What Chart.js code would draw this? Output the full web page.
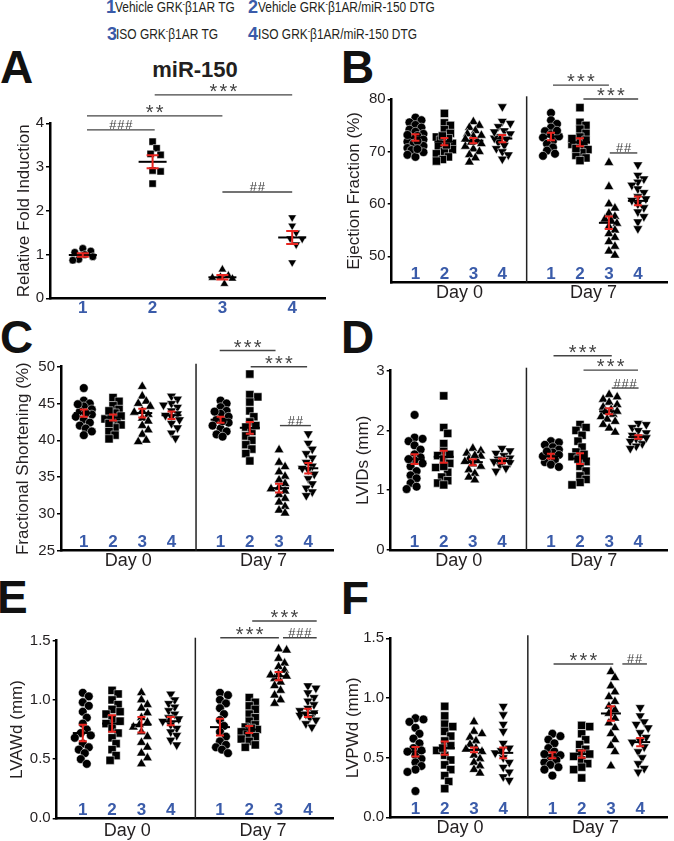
<!DOCTYPE html>
<html>
<head>
<meta charset="utf-8">
<script src="https://cdn.jsdelivr.net/npm/chart.js@4.4.1/dist/chart.umd.min.js"></script>
<style>
  body { margin: 0; background: #fff; width: 674px; height: 841px; position: relative; overflow: hidden;
         font-family: "Liberation Sans", Arial, Helvetica, sans-serif; color: #231f20; }
  canvas { position: absolute; }
  .letter { position: absolute; font-weight: bold; font-size: 46px; line-height: 46px; color: #111; }
  .num { position: absolute; font-weight: bold; font-size: 18px; line-height: 20px; color: #3a5ba9; }
  .leg { position: absolute; font-size: 15px; line-height: 20px; white-space: nowrap;
         transform-origin: left center; }
  .leg sup { font-size: 9px; line-height: 0; vertical-align: 5px; }
  .title { position: absolute; font-weight: bold; font-size: 22px; line-height: 24px; width: 120px; text-align: center; }
</style>
</head>
<body>
<div class="num" style="left:106px;top:-3px">1</div>
<div class="leg" data-w="120" style="left:115px;top:-3px">Vehicle GRK<sup>-</sup>β1AR TG</div>
<div class="num" style="left:248px;top:-3px">2</div>
<div class="leg" data-w="177" style="left:258px;top:-3px">Vehicle GRK<sup>-</sup>β1AR/miR-150 DTG</div>
<div class="num" style="left:107px;top:24px">3</div>
<div class="leg" data-w="102" style="left:116px;top:24px">ISO GRK<sup>-</sup>β1AR TG</div>
<div class="num" style="left:248px;top:24px">4</div>
<div class="leg" data-w="159" style="left:258px;top:24px">ISO GRK<sup>-</sup>β1AR/miR-150 DTG</div>

<div class="letter" style="left:0px;top:44px">A</div>
<div class="letter" style="left:341px;top:44px">B</div>
<div class="letter" style="left:0px;top:314px">C</div>
<div class="letter" style="left:341px;top:314px">D</div>
<div class="letter" style="left:-3px;top:574px">E</div>
<div class="letter" style="left:341px;top:575px">F</div>
<div class="title" style="left:135px;top:58px">miR-150</div>

<canvas id="chartA" width="340" height="260" style="left:0;top:60px"></canvas>
<canvas id="chartB" width="334" height="260" style="left:340px;top:60px"></canvas>
<canvas id="chartC" width="340" height="260" style="left:0;top:320px"></canvas>
<canvas id="chartD" width="334" height="260" style="left:340px;top:320px"></canvas>
<canvas id="chartE" width="340" height="261" style="left:0;top:580px"></canvas>
<canvas id="chartF" width="334" height="261" style="left:340px;top:580px"></canvas>

<script>
// ---- data ----
const groupLabels = ['1', '2', '3', '4'];
const dayLabels = ['Day 0', 'Day 7'];
const groupPos = [1, 2, 3, 4, 5.68, 6.68, 7.68, 8.68];   // 4 groups on Day 0, 4 on Day 7
const dayPos = [2.52, 7.15];

// A: miR-150
const mirValues = [
  [1.14, 1.08, 1.05, 1.00, 0.95, 0.89, 0.87],
  [3.58, 3.43, 3.30, 3.28, 2.92, 2.90, 2.62],
  [0.66, 0.52, 0.49, 0.47, 0.45, 0.33],
  [1.85, 1.66, 1.50, 1.37, 1.36, 1.23, 0.82]
];
const mirMean = [0.99, 3.12, 0.48, 1.39];
const mirSem = [0.04, 0.15, 0.05, 0.15];
const mirTicks = [0, 1, 2, 3, 4];
const mirSig = [[1.06, 2.03, 3.85, '###'], [1.06, 3.0, 4.17, '**'], [2.03, 4.0, 4.65, '***'], [3.0, 4.0, 2.43, '##']];

// B: ejection fraction
const efDay0 = [
  [76.5, 76.0, 75.6, 75.1, 74.6, 74.2, 73.8, 73.4, 73.0, 72.6, 72.3, 71.9, 71.5, 71.1, 70.7, 70.3, 69.9, 69.4, 69.0, 72.0, 73.2, 70.5],
  [77.3, 75.5, 75.0, 74.2, 73.5, 72.8, 72.2, 71.6, 71.0, 70.4, 70.0, 69.6, 69.0, 68.5, 68.2, 71.3, 72.5, 73.0],
  [75.7, 75.0, 74.6, 74.0, 73.4, 72.9, 72.4, 72.0, 71.5, 71.0, 70.5, 70.0, 69.4, 68.8, 68.0, 71.8, 73.1],
  [78.6, 75.8, 75.4, 74.8, 74.0, 73.4, 72.9, 72.4, 71.8, 71.2, 70.6, 70.0, 69.4, 68.6, 72.6, 73.8]
];
const efDay7 = [
  [77.4, 76.0, 75.3, 74.6, 73.9, 73.3, 72.7, 72.1, 71.5, 70.8, 70.2, 69.6, 69.2, 72.9, 74.0],
  [78.4, 75.6, 75.0, 74.3, 73.5, 72.8, 72.2, 71.6, 71.0, 70.4, 69.8, 69.3, 68.8, 68.3, 71.4, 72.5, 70.6],
  [67.9, 63.3, 60.0, 59.2, 58.2, 57.6, 56.9, 56.3, 55.7, 55.0, 54.3, 53.6, 52.8, 51.9, 51.0, 50.2, 57.1],
  [67.5, 65.5, 64.8, 64.2, 63.6, 62.9, 62.2, 61.4, 60.7, 60.0, 59.3, 58.5, 57.6, 56.6, 55.3, 61.0]
];
const efMean = [72.7, 71.9, 72.1, 72.5, 72.9, 71.8, 56.4, 60.6];
const efSem = [0.6, 0.7, 0.5, 0.7, 0.7, 0.75, 1.2, 0.85];
const efTicks = [50, 60, 70, 80];
const efSig = [[5.75, 7.68, 82.7, '***'], [6.8, 8.69, 80.05, '***'], [7.71, 8.66, 69.75, '##']];

// C: fractional shortening
const fsDay0 = [
  [47.1, 45.4, 45.0, 44.6, 44.2, 43.9, 43.5, 43.2, 42.8, 42.4, 42.0, 41.6, 41.2, 40.7, 43.7, 44.9],
  [45.8, 45.3, 44.7, 44.2, 43.7, 43.3, 42.9, 42.5, 42.1, 41.7, 41.2, 40.7, 40.2, 43.0, 44.0, 42.3],
  [47.3, 46.0, 45.3, 44.6, 44.0, 43.5, 43.0, 42.6, 42.0, 41.4, 40.8, 40.0, 39.8, 43.8, 45.0],
  [46.0, 45.6, 45.0, 44.5, 44.0, 43.6, 43.2, 42.8, 42.3, 41.7, 41.0, 40.3, 43.4, 44.8]
];
const fsDay7 = [
  [45.4, 45.0, 44.5, 44.0, 43.6, 43.2, 42.8, 42.4, 42.0, 41.6, 41.2, 40.8, 40.5, 42.6, 43.9],
  [49.0, 46.2, 45.9, 45.2, 44.0, 43.2, 42.5, 41.8, 41.2, 40.6, 40.0, 39.4, 38.8, 38.2, 37.2, 42.0],
  [38.7, 37.0, 36.4, 35.7, 35.1, 34.6, 34.1, 33.6, 33.1, 32.6, 32.1, 31.6, 31.0, 30.5, 30.1, 33.4],
  [40.9, 39.6, 38.8, 38.2, 37.6, 37.0, 36.5, 36.0, 35.4, 34.8, 34.1, 33.5, 33.0, 32.5, 36.2]
];
const fsMean = [43.7, 43.1, 43.7, 43.4, 42.8, 41.7, 33.5, 36.2];
const fsSem = [0.5, 0.4, 0.6, 0.5, 0.4, 0.8, 0.6, 0.7];
const fsTicks = [25, 30, 35, 40, 45, 50];
const fsSig = [[5.65, 7.56, 52.2, '***'], [6.71, 8.64, 50.0, '***'], [7.71, 8.77, 42.0, '##']];

// D: LVIDs
const lvidsDay0 = [
  [2.26, 1.88, 1.86, 1.82, 1.75, 1.68, 1.60, 1.55, 1.50, 1.45, 1.40, 1.32, 1.25, 1.20, 1.12, 1.06, 1.02, 1.52],
  [2.58, 2.05, 1.95, 1.78, 1.65, 1.58, 1.52, 1.45, 1.38, 1.30, 1.22, 1.16, 1.12, 1.09, 1.60, 1.40],
  [1.70, 1.66, 1.62, 1.57, 1.52, 1.48, 1.44, 1.40, 1.34, 1.28, 1.22, 1.17, 1.50, 1.58],
  [1.70, 1.66, 1.62, 1.58, 1.54, 1.50, 1.46, 1.42, 1.37, 1.32, 1.52, 1.48]
];
const lvidsDay7 = [
  [1.82, 1.80, 1.76, 1.72, 1.68, 1.63, 1.59, 1.55, 1.51, 1.47, 1.43, 1.39, 1.57, 1.65],
  [2.10, 2.05, 2.00, 1.92, 1.82, 1.72, 1.64, 1.56, 1.48, 1.40, 1.32, 1.24, 1.18, 1.13, 1.09, 1.52, 1.60],
  [2.60, 2.56, 2.52, 2.47, 2.43, 2.39, 2.35, 2.31, 2.27, 2.23, 2.19, 2.15, 2.10, 2.04, 1.97, 2.32],
  [2.12, 2.10, 2.05, 2.00, 1.96, 1.92, 1.89, 1.86, 1.82, 1.78, 1.74, 1.70, 1.88]
];
const lvidsMean = [1.52, 1.56, 1.47, 1.49, 1.57, 1.53, 2.32, 1.89];
const lvidsSem = [0.08, 0.10, 0.05, 0.04, 0.04, 0.09, 0.05, 0.03];
const lvidsTicks = [0, 1, 2, 3];
const lvidsSig = [[5.77, 7.77, 3.25, '***'], [6.8, 8.67, 3.01, '***'], [7.77, 8.69, 2.71, '###']];

// E: LVAWd
const lvawdDay0 = [
  [1.06, 1.03, 0.98, 0.95, 0.90, 0.85, 0.80, 0.75, 0.72, 0.68, 0.63, 0.60, 0.58, 0.55, 0.50, 0.46, 0.70],
  [1.08, 1.05, 1.00, 0.96, 0.92, 0.88, 0.84, 0.80, 0.76, 0.72, 0.68, 0.63, 0.58, 0.53, 0.49, 0.82, 0.90],
  [1.06, 1.00, 0.96, 0.93, 0.89, 0.85, 0.81, 0.77, 0.73, 0.69, 0.64, 0.60, 0.55, 0.51, 0.46, 0.79],
  [1.05, 1.00, 0.97, 0.94, 0.91, 0.88, 0.85, 0.82, 0.79, 0.76, 0.73, 0.70, 0.66, 0.62, 0.84]
];
const lvawdDay7 = [
  [1.06, 1.04, 1.00, 0.97, 0.93, 0.88, 0.83, 0.78, 0.73, 0.69, 0.65, 0.62, 0.60, 0.58, 0.55],
  [1.02, 0.98, 0.95, 0.92, 0.88, 0.85, 0.82, 0.79, 0.77, 0.75, 0.73, 0.71, 0.69, 0.67, 0.65, 0.62, 0.60, 0.76],
  [1.43, 1.42, 1.35, 1.31, 1.28, 1.25, 1.22, 1.20, 1.18, 1.15, 1.12, 1.08, 1.04, 1.00, 0.97, 1.21],
  [1.12, 1.10, 1.06, 1.02, 0.99, 0.96, 0.93, 0.91, 0.89, 0.87, 0.85, 0.83, 0.80, 0.77, 0.88]
];
const lvawdMean = [0.72, 0.80, 0.79, 0.82, 0.77, 0.75, 1.20, 0.89];
const lvawdSem = [0.07, 0.07, 0.065, 0.035, 0.07, 0.03, 0.035, 0.035];
const wallTicks = [0, 0.5, 1.0, 1.5];
const lvawdSig = [[6.78, 8.98, 1.667, '***'], [5.69, 7.69, 1.525, '***'], [7.83, 8.98, 1.525, '###']];

// F: LVPWd
const lvpwdDay0 = [
  [0.83, 0.82, 0.80, 0.75, 0.70, 0.66, 0.62, 0.58, 0.55, 0.52, 0.49, 0.46, 0.43, 0.40, 0.38, 0.22, 0.56],
  [0.93, 0.85, 0.78, 0.76, 0.72, 0.68, 0.64, 0.60, 0.56, 0.52, 0.48, 0.44, 0.40, 0.35, 0.30, 0.24, 0.58],
  [0.80, 0.72, 0.70, 0.67, 0.64, 0.61, 0.58, 0.55, 0.52, 0.49, 0.46, 0.43, 0.40, 0.37, 0.57],
  [0.93, 0.86, 0.78, 0.72, 0.62, 0.58, 0.54, 0.50, 0.46, 0.42, 0.38, 0.34, 0.31, 0.56]
];
const lvpwdDay7 = [
  [0.70, 0.68, 0.65, 0.62, 0.58, 0.55, 0.52, 0.50, 0.48, 0.46, 0.44, 0.42, 0.40, 0.35, 0.53],
  [0.77, 0.76, 0.70, 0.65, 0.61, 0.57, 0.54, 0.51, 0.48, 0.45, 0.42, 0.40, 0.33, 0.53],
  [1.22, 1.17, 1.10, 1.05, 1.01, 0.97, 0.93, 0.90, 0.87, 0.83, 0.79, 0.75, 0.70, 0.65, 0.60, 0.55, 0.43],
  [0.92, 0.85, 0.80, 0.78, 0.75, 0.71, 0.67, 0.63, 0.59, 0.55, 0.50, 0.45, 0.41, 0.38, 0.64]
];
const lvpwdMean = [0.55, 0.58, 0.565, 0.54, 0.52, 0.53, 0.87, 0.63];
const lvpwdSem = [0.04, 0.055, 0.02, 0.045, 0.025, 0.03, 0.06, 0.035];
const lvpwdSig = [[5.72, 7.76, 1.285, '***'], [8.07, 8.91, 1.285, '##']];

// ---- styling ----
const BLUE = '#3a5ba9';
const RED = '#e8251f';
const INK = '#231f20';
const FONT = '"Liberation Sans", Arial, Helvetica, sans-serif';
Chart.defaults.font.family = FONT;
Chart.defaults.color = INK;

// squeeze legend lines to the condensed width of the original
document.querySelectorAll('.leg').forEach(el => {
  const k = Number(el.dataset.w) / el.offsetWidth;
  el.style.transform = 'scaleX(' + k.toFixed(3) + ')';
});

const markers = [
  { style: 'circle', rot: 0, r: 4.4 },
  { style: 'rect', rot: 0, r: 5.8 },
  { style: 'triangle', rot: 0, r: 5.6 },
  { style: 'triangle', rot: 180, r: 5.6 }
];

// draw each character of a label centred on (cx, cy)
function drawCentered(ctx, str, cx, cy, font, spacing, color) {
  ctx.save();
  ctx.font = font;
  ctx.fillStyle = color;
  ctx.textAlign = 'center';
  ctx.textBaseline = 'alphabetic';
  const chars = str.split('');
  chars.forEach((ch, i) => {
    const m = ctx.measureText(ch);
    const base = cy + (m.actualBoundingBoxAscent - m.actualBoundingBoxDescent) / 2;
    const x = cx + (i - (chars.length - 1) / 2) * spacing;
    ctx.fillText(ch, x, base);
  });
  ctx.restore();
}

function overlay(p) {
  return {
    id: 'overlay',
    beforeDatasetsDraw(chart) {
      if (p.divider == null) return;
      const { ctx, chartArea: a, scales: { x } } = chart;
      const px = x.getPixelForValue(p.divider);
      ctx.save();
      ctx.strokeStyle = '#222';
      ctx.lineWidth = 1.5;
      ctx.beginPath();
      ctx.moveTo(px, a.top - 3);
      ctx.lineTo(px, a.bottom);
      ctx.stroke();
      ctx.restore();
    },
    afterDatasetsDraw(chart) {
      const { ctx, scales: { x, y } } = chart;
      ctx.save();
      p.mean.forEach((m, i) => {
        const cx = x.getPixelForValue(p.pos[i]);
        const my = y.getPixelForValue(m);
        const hi = y.getPixelForValue(m + p.sem[i]);
        const lo = y.getPixelForValue(m - p.sem[i]);
        ctx.strokeStyle = '#000';
        ctx.lineWidth = 2;
        ctx.beginPath();
        ctx.moveTo(cx - p.meanHalf, my);
        ctx.lineTo(cx + p.meanHalf, my);
        ctx.stroke();
        ctx.strokeStyle = RED;
        ctx.lineWidth = 2;
        ctx.beginPath();
        ctx.moveTo(cx, hi); ctx.lineTo(cx, lo);
        ctx.moveTo(cx - p.capHalf, hi); ctx.lineTo(cx + p.capHalf, hi);
        ctx.moveTo(cx - p.capHalf, lo); ctx.lineTo(cx + p.capHalf, lo);
        ctx.stroke();
      });
      ctx.restore();
    },
    afterDraw(chart) {
      const { ctx, chartArea: a, scales: { x, y } } = chart;
      // significance bars
      p.sig.forEach(([x1, x2, v, label]) => {
        const px1 = x.getPixelForValue(x1), px2 = x.getPixelForValue(x2);
        const py = y.getPixelForValue(v);
        ctx.save();
        ctx.strokeStyle = '#444';
        ctx.lineWidth = 1.4;
        ctx.beginPath();
        ctx.moveTo(px1, py);
        ctx.lineTo(px2, py);
        ctx.stroke();
        ctx.restore();
        const mid = (px1 + px2) / 2;
        if (label[0] === '*') drawCentered(ctx, label, mid, py - 7, '20px ' + FONT, 10, '#444');
        else drawCentered(ctx, label, mid, py - 5, '13px ' + FONT, 8, '#444');
      });
      // group numbers inside the plot
      if (p.inlineNumbers) {
        p.pos.forEach((gx, i) => {
          drawCentered(ctx, groupLabels[i % 4], x.getPixelForValue(gx), a.bottom - 9.5, 'bold 17px ' + FONT, 0, BLUE);
        });
      }
    }
  };
}

// spread overlapping points sideways (dot-plot layout)
function swarm(chart, spread, gap) {
  const xs = chart.scales.x, ys = chart.scales.y;
  const unit = xs.getPixelForValue(1) - xs.getPixelForValue(0);
  const steps = [0];
  for (let k = 2; k <= spread; k += 2) steps.push(k, -k);
  chart.data.datasets.forEach(ds => {
    const placed = [];
    const order = ds.data.map((d, i) => i).sort((a, b) => ds.data[b].y - ds.data[a].y);
    order.forEach(i => {
      const py = ys.getPixelForValue(ds.data[i].y);
      let best = 0, bestD = -1;
      for (const dx of steps) {
        let dmin = Infinity;
        placed.forEach(q => { dmin = Math.min(dmin, Math.hypot(q.dx - dx, q.py - py)); });
        if (dmin >= gap) { best = dx; break; }
        if (dmin > bestD) { bestD = dmin; best = dx; }
      }
      placed.push({ dx: best, py });
      ds.data[i].x = ds.center + best / unit;
    });
  });
  chart.update('none');
}

function makePanel(id, p) {
  const datasets = p.groups.map((vals, i) => {
    const mk = markers[i % 4];
    const r = mk.r * (p.markerScale || 1);
    return {
      center: p.pos[i],
      data: vals.map(v => ({ x: p.pos[i], y: v })),
      pointStyle: mk.style,
      pointRotation: mk.rot,
      pointRadius: r,
      pointHoverRadius: r,
      pointBackgroundColor: '#000',
      pointBorderColor: '#fff',
      pointBorderWidth: 0.5
    };
  });
  const chart = new Chart(document.getElementById(id), {
    type: 'scatter',
    data: { datasets },
    options: {
      responsive: false,
      animation: false,
      events: [],
      layout: { padding: { top: p.padTop, right: p.padRight, bottom: 0, left: 0 } },
      plugins: { legend: { display: false }, tooltip: { enabled: false } },
      scales: {
        x: {
          type: 'linear', min: p.xMin, max: p.xMax,
          afterBuildTicks: s => { s.ticks = p.xTicks.map(v => ({ value: v })); },
          afterFit: s => { s.height = p.xH; },
          grid: { display: false, drawTicks: false },
          border: { display: true, color: '#000', width: 2.5 },
          ticks: {
            autoSkip: false, maxRotation: 0, padding: p.xPad,
            color: p.xColor, font: p.xFont,
            callback: (v, i) => p.xLabels[i]
          }
        },
        y: {
          min: p.yMin, max: p.yMax,
          afterBuildTicks: s => { s.ticks = p.yTicks.map(v => ({ value: v })); },
          afterFit: s => { s.width = p.yW; },
          grid: { display: true, drawOnChartArea: false, drawTicks: true, tickLength: 4, color: '#000', lineWidth: 1.5 },
          border: { display: true, color: '#000', width: 2.5 },
          ticks: { padding: 2, color: INK, font: { size: 15 }, callback: v => p.yFmt ? v.toFixed(p.yFmt) : v },
          title: { display: true, text: p.yTitle, color: INK, font: { size: 17 }, padding: { top: p.titlePad, bottom: 0 } }
        }
      }
    },
    plugins: [overlay(p)]
  });
  swarm(chart, p.spread || 8, p.gap || 6.5);
  return chart;
}

const dayAxis = { xTicks: dayPos, xLabels: dayLabels, xColor: INK, xFont: { size: 18 }, xPad: 0,
                  pos: groupPos, divider: 4.84, inlineNumbers: true, meanHalf: 10, capHalf: 4 };

makePanel('chartA', {
  groups: mirValues, mean: mirMean, sem: mirSem, sig: mirSig, pos: [1, 2, 3, 4],
  xTicks: [1, 2, 3, 4], xLabels: groupLabels, xColor: BLUE, xFont: { size: 17, weight: 'bold' }, xPad: 0,
  xMin: 0.53, xMax: 4.47, yMin: 0, yMax: 4, yTicks: mirTicks, yTitle: 'Relative Fold Induction',
  padTop: 63.3, padRight: 15, yW: 50, xH: 21.7, titlePad: 13.8, meanHalf: 14, capHalf: 6,
  markerScale: 0.88, spread: 10, gap: 7.5
});
makePanel('chartB', Object.assign({}, dayAxis, {
  groups: efDay0.concat(efDay7), mean: efMean, sem: efSem, sig: efSig,
  xMin: 0.18, xMax: 9.71, yMin: 45, yMax: 80, yTicks: efTicks, yTitle: 'Ejection Fraction (%)',
  padTop: 39.3, padRight: 1, yW: 51.7, xH: 37.5, titlePad: 4.3
}));
makePanel('chartC', Object.assign({}, dayAxis, {
  groups: fsDay0.concat(fsDay7), mean: fsMean, sem: fsSem, sig: fsSig,
  xMin: 0.22, xMax: 9.55, yMin: 25, yMax: 50, yTicks: fsTicks, yTitle: 'Fractional Shortening (%)',
  padTop: 46.7, padRight: 3, yW: 61, xH: 29.3, titlePad: 12.8
}));
makePanel('chartD', Object.assign({}, dayAxis, {
  groups: lvidsDay0.concat(lvidsDay7), mean: lvidsMean, sem: lvidsSem, sig: lvidsSig,
  xMin: 0.18, xMax: 9.69, yMin: 0, yMax: 3, yTicks: lvidsTicks, yTitle: 'LVIDs (mm)',
  padTop: 50.7, padRight: 1, yW: 50.7, xH: 30, titlePad: 13.3
}));
makePanel('chartE', Object.assign({}, dayAxis, {
  groups: lvawdDay0.concat(lvawdDay7), mean: lvawdMean, sem: lvawdSem, sig: lvawdSig,
  xMin: 0.11, xMax: 9.56, yMin: 0, yMax: 1.5, yTicks: wallTicks, yFmt: 1, yTitle: 'LVAWd (mm)',
  padTop: 60.7, padRight: 0, yW: 56.7, xH: 22.7, titlePad: 6.8, xPad: 2
}));
makePanel('chartF', Object.assign({}, dayAxis, {
  groups: lvpwdDay0.concat(lvpwdDay7), mean: lvpwdMean, sem: lvpwdSem, sig: lvpwdSig,
  xMin: 0.13, xMax: 9.62, yMin: 0, yMax: 1.5, yTicks: wallTicks, yFmt: 1, yTitle: 'LVPWd (mm)',
  padTop: 58.3, padRight: 1, yW: 50, xH: 23.7, titlePad: 3.3
}));
</script>
</body>
</html>
